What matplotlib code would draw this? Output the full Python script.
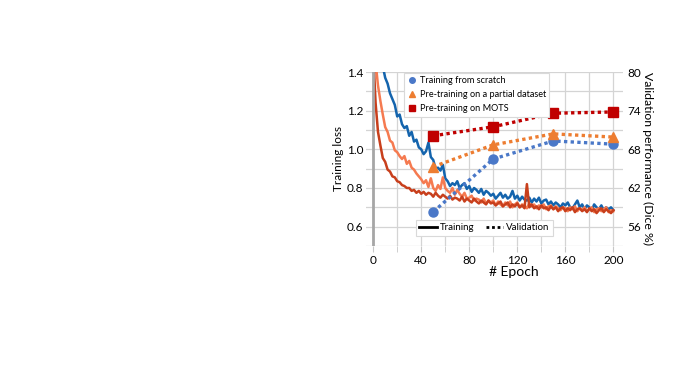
import matplotlib
matplotlib.use("Agg")
import matplotlib.pyplot as plt
from matplotlib.lines import Line2D

plt.rcParams['font.family'] = ['Lato', 'DejaVu Sans']

# training loss, sampled every 2 epochs (0..200)
epochs = list(range(0, 201, 2))
loss_scratch = [
    1.75, 1.66, 1.57, 1.49, 1.43, 1.37, 1.34, 1.29, 1.26, 1.23,
    1.17, 1.18, 1.13, 1.11, 1.12, 1.07, 1.09, 1.04, 1.05, 1.01,
    1.00, 0.975, 0.99, 1.035, 0.96, 0.945, 0.90, 0.905, 0.89, 0.92,
    0.85, 0.835, 0.81, 0.825, 0.815, 0.835, 0.80, 0.815, 0.825, 0.795,
    0.81, 0.78, 0.80, 0.79, 0.775, 0.795, 0.765, 0.785, 0.775, 0.76,
    0.77, 0.745, 0.76, 0.775, 0.75, 0.765, 0.745, 0.755, 0.785, 0.745,
    0.76, 0.735, 0.755, 0.74, 0.735, 0.75, 0.725, 0.745, 0.73, 0.75,
    0.72, 0.735, 0.74, 0.715, 0.73, 0.71, 0.725, 0.715, 0.70, 0.72,
    0.71, 0.725, 0.70, 0.695, 0.715, 0.735, 0.70, 0.715, 0.69, 0.71,
    0.70, 0.685, 0.715, 0.70, 0.69, 0.71, 0.685, 0.70, 0.69, 0.70,
    0.685]
loss_partial = [
    1.62, 1.45, 1.33, 1.25, 1.18, 1.115, 1.09, 1.045, 1.035, 0.995,
    0.985, 0.965, 0.95, 0.965, 0.925, 0.94, 0.905, 0.895, 0.875, 0.86,
    0.845, 0.825, 0.84, 0.805, 0.85, 0.80, 0.785, 0.815, 0.795, 0.855,
    0.80, 0.785, 0.775, 0.80, 0.765, 0.79, 0.77, 0.755, 0.775, 0.745,
    0.75, 0.76, 0.735, 0.745, 0.74, 0.725, 0.745, 0.72, 0.735, 0.725,
    0.735, 0.71, 0.73, 0.715, 0.705, 0.725, 0.71, 0.73, 0.70, 0.715,
    0.725, 0.70, 0.715, 0.71, 0.695, 0.72, 0.705, 0.715, 0.695, 0.71,
    0.70, 0.715, 0.69, 0.705, 0.71, 0.69, 0.705, 0.695, 0.685, 0.70,
    0.695, 0.68, 0.70, 0.69, 0.705, 0.68, 0.695, 0.685, 0.70, 0.68,
    0.69, 0.70, 0.675, 0.69, 0.695, 0.68, 0.69, 0.70, 0.675, 0.685,
    0.68]
loss_mots = [
    1.50, 1.24, 1.09, 1.02, 0.955, 0.935, 0.895, 0.885, 0.86, 0.855,
    0.835, 0.83, 0.815, 0.81, 0.80, 0.80, 0.785, 0.79, 0.775, 0.785,
    0.77, 0.78, 0.765, 0.775, 0.77, 0.755, 0.775, 0.76, 0.75, 0.765,
    0.755, 0.745, 0.76, 0.74, 0.75, 0.745, 0.735, 0.755, 0.73, 0.745,
    0.735, 0.725, 0.745, 0.73, 0.72, 0.735, 0.725, 0.715, 0.735, 0.72,
    0.725, 0.71, 0.72, 0.73, 0.705, 0.715, 0.725, 0.70, 0.715, 0.705,
    0.72, 0.70, 0.71, 0.695, 0.82, 0.70, 0.715, 0.695, 0.705, 0.69,
    0.71, 0.695, 0.70, 0.685, 0.705, 0.69, 0.70, 0.68, 0.695, 0.70,
    0.68, 0.695, 0.685, 0.70, 0.675, 0.69, 0.695, 0.68, 0.69, 0.675,
    0.695, 0.68, 0.69, 0.67, 0.685, 0.695, 0.675, 0.69, 0.68, 0.67,
    0.685]

# validation dice (%)
val_epochs = [50, 100, 150, 200]
val_scratch = [58.3, 66.5, 69.3, 68.8]
val_partial = [65.3, 68.7, 70.4, 69.9]
val_mots = [70.1, 71.5, 73.6, 73.8]

c_train = ["#1464ad", "#f57a50", "#c83f1c"]
c_val = ["#4a78c8", "#ed7d31", "#c00000"]

fig = plt.figure(figsize=(6.77, 3.79), dpi=100)
ax = fig.add_axes([0.5406, 0.351, 0.3796, 0.459])

ax.plot(epochs, loss_scratch, color=c_train[0], lw=1.8)
ax.plot(epochs, loss_partial, color=c_train[1], lw=1.8)
ax.plot(epochs, loss_mots, color=c_train[2], lw=1.8)

ax.set_xlim(-6, 208)
ax.set_ylim(0.5, 1.4)
ax.set_xticks(range(0, 201, 40))
ax.set_xticks(range(0, 201, 20), minor=True)
ax.set_yticks([0.6, 0.8, 1.0, 1.2, 1.4])
ax.set_yticks([0.5, 0.7, 0.9, 1.1, 1.3], minor=True)
ax.grid(True, which="both", color="#d4d4d4", lw=0.9)
ax.axvline(0, color="#a6a6a6", lw=2)
for s in ax.spines.values():
    s.set_visible(False)
ax.tick_params(axis="x", which="both", length=4, color="#c8c8c8", labelsize=8.5, pad=2.5)
ax.tick_params(axis="y", which="both", length=0, labelsize=8.5, pad=2)
ax.set_xlabel("# Epoch", fontsize=10)
ax.xaxis.set_label_coords(0.575, -0.113)
ax.xaxis.label.set_va("top")
ax.set_ylabel("Training loss", fontsize=8.5, labelpad=2)

ax2 = ax.twinx()
ax2.plot(val_epochs, val_scratch, color=c_val[0], ls=(0, (1, 1)), lw=2.4, marker="o", ms=6.5)
ax2.plot(val_epochs, val_partial, color=c_val[1], ls=(0, (1, 1)), lw=2.4, marker="^", ms=7)
ax2.plot(val_epochs, val_mots, color=c_val[2], ls=(0, (1, 1)), lw=2.4, marker="s", ms=6.5)
ax2.set_ylim(53, 80)
ax2.set_yticks([56, 62, 68, 74, 80])
for s in ax2.spines.values():
    s.set_visible(False)
ax2.tick_params(axis="y", length=0, labelsize=8.5, pad=3)
ax2.set_ylabel("Validation performance (Dice %)", fontsize=8.8, rotation=-90,
               va="bottom", labelpad=1)

h1 = [Line2D([], [], color=c_val[0], marker="o", ls="none", ms=4),
      Line2D([], [], color=c_val[1], marker="^", ls="none", ms=4.5),
      Line2D([], [], color=c_val[2], marker="s", ls="none", ms=4)]
leg1 = ax2.legend(h1, ["Training from scratch", "Pre-training on a partial dataset",
                       "Pre-training on MOTS"],
                  loc="upper left", bbox_to_anchor=(0.13, 1.02), fontsize=6.6,
                  handlelength=1, handletextpad=0.4, borderpad=0.35, labelspacing=0.55,
                  fancybox=False, framealpha=1, edgecolor="#d9d9d9")
leg1.get_frame().set_linewidth(0.8)
ax2.add_artist(leg1)

h2 = [Line2D([], [], color="black", lw=2),
      Line2D([], [], color="black", lw=2, ls=(0, (1, 1)))]
leg2 = ax2.legend(h2, ["Training", "Validation"], loc="lower left",
                  bbox_to_anchor=(0.175, 0.03), ncol=2, fontsize=7,
                  handlelength=1.8, handletextpad=0.3, columnspacing=1.2,
                  borderpad=0.35, fancybox=False, framealpha=1, edgecolor="#d9d9d9")
leg2.get_frame().set_linewidth(0.8)

fig.savefig("out.png", dpi=100)
